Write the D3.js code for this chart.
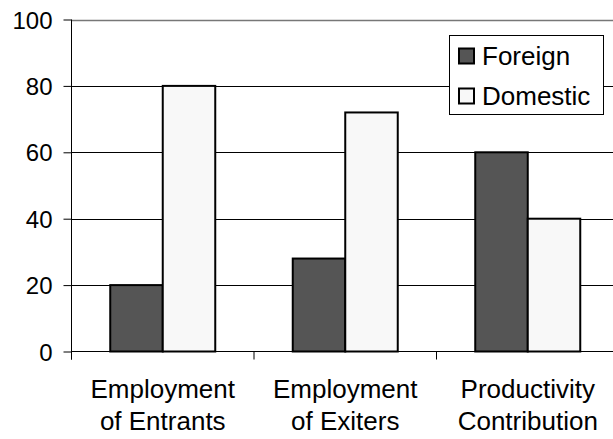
<!DOCTYPE html>
<html>
<head>
<meta charset="utf-8">
<script src="https://cdn.jsdelivr.net/npm/d3@7"></script>
<style>
  html, body { margin: 0; padding: 0; background: #fff; }
  svg { display: block; font-family: Arial, "Liberation Sans", sans-serif; }
</style>
</head>
<body>
<svg id="chart" width="613" height="439"></svg>
<script>
const categories = [["Employment", "of Entrants"], ["Employment", "of Exiters"], ["Productivity", "Contribution"]];
const categoryKeys = ["Employment of Entrants", "Employment of Exiters", "Productivity Contribution"];
const seriesNames = ["Foreign", "Domestic"];
const foreignValues = [20, 28, 60];
const domesticValues = [80, 72, 40];
const yTicks = [0, 20, 40, 60, 80, 100];
const seriesColors = ["#555555", "#f8f8f8"];

const svg = d3.select("#chart");
const plotLeft = 71.5, plotTop = 19.5, plotBottom = 351.5, bandStep = 182.5;
const plotRight = plotLeft + bandStep * categoryKeys.length;

const x0 = d3.scaleBand().domain(categoryKeys).range([plotLeft, plotRight]).padding(0);
const x1 = d3.scaleBand().domain(seriesNames).range([0, x0.bandwidth()]).paddingInner(0).paddingOuter(0.738);
const y = d3.scaleLinear().domain([0, 100]).range([plotBottom, plotTop]);

// gridlines
svg.append("g").selectAll("line").data(yTicks.filter(d => d > 0)).join("line")
  .attr("x1", plotLeft).attr("x2", 613)
  .attr("y1", d => Math.round(y(d)) + 0.5).attr("y2", d => Math.round(y(d)) + 0.5)
  .attr("stroke", d => d === 100 ? "#777" : "#000").attr("stroke-width", d => d === 100 ? 1.5 : 1);

// y axis
const yAxis = d3.axisLeft(y).tickValues(yTicks).tickSize(8).tickPadding(11).tickFormat(d3.format("d"));
const gy = svg.append("g").attr("transform", `translate(${plotLeft},0)`).call(yAxis);
gy.select(".domain").remove();
gy.selectAll(".tick line").attr("stroke", "#000");
gy.selectAll(".tick text").attr("font-size", 24).attr("fill", "#000").attr("font-family", "Arial, 'Liberation Sans', sans-serif").attr("dy", "0.36em");
svg.append("line").attr("x1", plotLeft).attr("x2", plotLeft).attr("y1", plotTop).attr("y2", plotBottom + 8).attr("stroke", "#000");

// bars
const data = categoryKeys.map((c, i) => ({ cat: c, vals: [foreignValues[i], domesticValues[i]] }));
const groups = svg.append("g").selectAll("g").data(data).join("g")
  .attr("transform", d => `translate(${x0(d.cat)},0)`);
groups.selectAll("rect").data(d => d.vals.map((v, j) => ({ s: seriesNames[j], v, j }))).join("rect")
  .attr("x", d => x1(d.s))
  .attr("y", d => y(d.v))
  .attr("width", x1.bandwidth())
  .attr("height", d => y(0) - y(d.v))
  .attr("fill", d => seriesColors[d.j])
  .attr("stroke", "#000").attr("stroke-width", 2);

// x axis
svg.append("line").attr("x1", plotLeft).attr("x2", 613).attr("y1", plotBottom).attr("y2", plotBottom).attr("stroke", "#000");
const tickXs = d3.range(categoryKeys.length + 1).map(i => plotLeft + i * x0.step());
svg.append("g").selectAll("line").data(tickXs).join("line")
  .attr("x1", d => d).attr("x2", d => d).attr("y1", plotBottom).attr("y2", plotBottom + 8).attr("stroke", "#000");

// category labels
const lab = svg.append("g").selectAll("text").data(categoryKeys).join("text")
  .attr("x", d => x0(d) + x0.bandwidth() / 2)
  .attr("text-anchor", "middle").attr("font-size", 26).attr("fill", "#000");
lab.each(function(d, i) {
  const t = d3.select(this);
  categories[i].forEach((line, k) => {
    t.append("tspan").attr("x", x0(d) + x0.bandwidth() / 2).attr("y", 398 + k * 32).text(line);
  });
});

// legend
const lg = svg.append("g");
lg.append("rect").attr("x", 449.5).attr("y", 35.5).attr("width", 154).attr("height", 79)
  .attr("fill", "#fff").attr("stroke", "#000");
seriesNames.forEach((s, i) => {
  lg.append("rect").attr("x", 459).attr("y", 48.5 + i * 40).attr("width", 15).attr("height", 15)
    .attr("fill", seriesColors[i]).attr("stroke", "#000").attr("stroke-width", 2);
  lg.append("text").attr("x", 482).attr("y", 65 + i * 39.5).attr("font-size", 26).attr("fill", "#000").text(s);
});
</script>
</body>
</html>
